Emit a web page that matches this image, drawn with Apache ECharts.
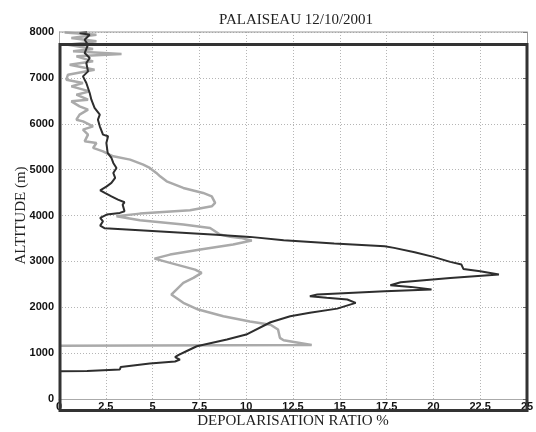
<!DOCTYPE html>
<html>
<head>
<meta charset="utf-8">
<script src="https://cdn.jsdelivr.net/npm/echarts@6/dist/echarts.min.js"></script>
<style>
  html, body { margin: 0; padding: 0; background: #fff; }
  #chart { width: 536px; height: 432px; }
</style>
</head>
<body>
<div id="chart"></div>
<script>
// dark profile: depolarisation ratio (%) vs altitude (m), bottom to top
const darkRatio = [0.0, 1.5, 3.25, 3.3, 4.85, 6.2, 6.46, 6.2, 6.37, 6.8, 7.36, 8.97, 10.0, 11.3, 12.35, 13.4, 14.86, 15.85, 15.4, 14.3, 13.4, 13.8, 17.4, 19.9, 19.95, 18.8, 17.7, 17.6, 18.25, 20.9, 23.5, 22.5, 21.6, 21.5, 20.9, 20.0, 19.0, 17.9, 17.4, 14.7, 12.0, 10.2, 8.4, 4.3, 2.45, 2.2, 2.35, 2.2, 2.55, 3.25, 3.5, 3.4, 3.5, 3.15, 2.8, 2.45, 2.2, 2.55, 2.8, 3.0, 2.9, 3.07, 2.9, 2.8, 2.6, 2.53, 2.62, 2.35, 2.18, 2.08, 2.18, 1.9, 1.73, 1.64, 1.46, 1.28, 1.55, 1.46, 1.64, 1.37, 1.55, 1.37, 1.64, 1.1, 1.5];
const darkAlt = [606, 610, 643, 700, 773, 817, 860, 911, 955, 1041, 1150, 1296, 1405, 1673, 1804, 1878, 1970, 2096, 2168, 2205, 2240, 2277, 2349, 2386, 2407, 2444, 2480, 2510, 2545, 2640, 2712, 2785, 2836, 2930, 2989, 3098, 3198, 3294, 3329, 3388, 3460, 3534, 3580, 3678, 3721, 3780, 3874, 3948, 4020, 4057, 4092, 4237, 4288, 4346, 4418, 4492, 4549, 4636, 4710, 4819, 4928, 5037, 5146, 5255, 5364, 5582, 5726, 5762, 5944, 6089, 6198, 6344, 6525, 6671, 6888, 7033, 7142, 7324, 7433, 7542, 7723, 7832, 7941, 7977, 8000];

// light profile
const lightRatio = [0.0, 13.5, 12.0, 11.8, 11.7, 11.3, 10.2, 8.78, 7.44, 6.64, 6.0, 6.1, 6.64, 7.18, 7.62, 7.27, 6.28, 5.1, 5.93, 7.55, 9.3, 10.3, 9.7, 9.15, 8.6, 8.07, 6.64, 4.32, 3.07, 4.32, 7.0, 8.16, 8.34, 8.16, 7.7, 6.64, 5.75, 5.4, 5.2, 4.85, 4.5, 3.8, 2.9, 2.7, 2.35, 1.82, 2.0, 1.37, 1.55, 1.28, 1.82, 1.28, 0.93, 1.1, 1.55, 1.1, 0.66, 1.55, 0.93, 1.64, 0.66, 1.28, 0.39, 0.48, 1.9, 0.57, 1.82, 0.93, 3.34, 0.75, 1.82, 0.48, 2.0, 0.66, 2.0, 0.3];
const lightAlt = [1160, 1178, 1281, 1333, 1514, 1620, 1690, 1804, 1950, 2096, 2277, 2313, 2531, 2640, 2749, 2821, 2930, 3060, 3148, 3257, 3366, 3453, 3512, 3534, 3584, 3729, 3802, 3895, 3983, 4041, 4113, 4201, 4274, 4418, 4492, 4601, 4745, 4854, 4928, 5037, 5109, 5218, 5290, 5327, 5399, 5473, 5581, 5617, 5762, 5871, 5944, 6052, 6089, 6198, 6307, 6379, 6488, 6525, 6634, 6706, 6815, 6888, 6961, 7070, 7179, 7288, 7360, 7469, 7521, 7578, 7629, 7723, 7796, 7869, 7941, 7990];

const ratioRange = [0, 25];
const ratioStep = 2.5;
const altRange = [0, 8000];
const altStep = 1000;

const zip = (xs, ys) => xs.map((x, i) => [x, ys[i]]);

const chart = echarts.init(document.getElementById('chart'));

const tickLabel = {
  fontFamily: 'Liberation Sans, Arial, sans-serif',
  fontWeight: 'bold',
  fontSize: 11,
  color: '#111'
};
const dottedGrid = {
  show: true,
  lineStyle: { color: '#b5b5b5', type: [1, 2], width: 1 }
};
const serifName = {
  fontFamily: 'Liberation Serif, Times New Roman, serif',
  fontSize: 15,
  color: '#222'
};

chart.setOption({
  animation: false,
  backgroundColor: '#fff',
  title: {
    text: 'PALAISEAU 12/10/2001',
    left: 214,
    top: 8,
    textStyle: Object.assign({}, serifName, { fontWeight: 'normal' })
  },
  grid: { left: 59, right: 9, top: 32, bottom: 33, outerBoundsMode: 'none' },
  xAxis: {
    type: 'value',
    min: ratioRange[0],
    max: ratioRange[1],
    interval: ratioStep,
    name: 'DEPOLARISATION RATIO %',
    nameLocation: 'middle',
    nameGap: 15,
    nameMoveOverlap: false,
    nameTextStyle: serifName,
    axisLine: { show: true, lineStyle: { color: '#aaa', width: 1 } },
    axisTick: { show: false },
    axisLabel: Object.assign({ margin: 2 }, tickLabel),
    splitLine: dottedGrid
  },
  yAxis: [
    {
      type: 'value',
      min: altRange[0],
      max: altRange[1],
      interval: altStep,
      name: 'ALTITUDE (m)',
      nameLocation: 'middle',
      nameGap: 30,
      nameMoveOverlap: false,
      nameTextStyle: serifName,
      axisLine: { show: true, lineStyle: { color: '#aaa', width: 1 } },
      axisTick: { show: false },
      axisLabel: Object.assign({ margin: 5, formatter: v => String(v) }, tickLabel),
      splitLine: dottedGrid
    },
    {
      type: 'value',
      position: 'right',
      min: altRange[0],
      max: altRange[1],
      interval: altStep,
      axisLine: { show: true, lineStyle: { color: '#999', width: 1 } },
      axisTick: { show: true, inside: true, length: 4, lineStyle: { color: '#666' } },
      axisLabel: { show: false },
      splitLine: { show: false }
    }
  ],
  graphic: [
    {
      type: 'line',
      shape: { x1: 59, y1: 32, x2: 527, y2: 32 },
      style: { stroke: '#999', lineWidth: 1 },
      z: 10
    },
    {
      type: 'rect',
      shape: { x: 60, y: 44.5, width: 467, height: 366 },
      style: { fill: null, stroke: '#333', lineWidth: 3 },
      z: 10
    }
  ],
  series: [
    {
      type: 'line',
      data: zip(lightRatio, lightAlt),
      showSymbol: false,
      lineStyle: { color: '#aaaaaa', width: 2.5 },
      z: 3
    },
    {
      type: 'line',
      data: zip(darkRatio, darkAlt),
      showSymbol: false,
      lineStyle: { color: '#2e2e2e', width: 2 },
      z: 4
    }
  ]
});
</script>
</body>
</html>
